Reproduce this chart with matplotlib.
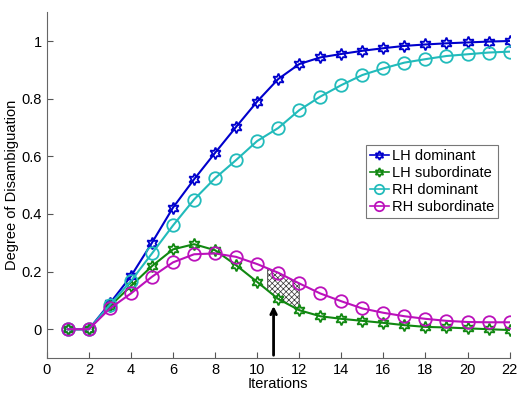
import numpy as np
import matplotlib.pyplot as plt

plt.rcParams['font.family'] = ['Liberation Sans', 'DejaVu Sans']
plt.rcParams['hatch.linewidth'] = 0.5

iters = np.arange(1, 23)
lh_dom = [0, 0, 0.09, 0.184, 0.30, 0.422, 0.52, 0.612, 0.702, 0.79, 0.868, 0.92,
          0.943, 0.955, 0.966, 0.975, 0.983, 0.988, 0.992, 0.995, 0.998, 1.0]
lh_sub = [0, 0, 0.08, 0.15, 0.219, 0.277, 0.295, 0.274, 0.222, 0.164, 0.105, 0.066,
          0.045, 0.036, 0.029, 0.022, 0.014, 0.008, 0.006, 0.003, 0.0, -0.003]
rh_dom = [0, 0, 0.085, 0.167, 0.263, 0.36, 0.45, 0.524, 0.587, 0.653, 0.698, 0.76,
          0.807, 0.847, 0.882, 0.905, 0.925, 0.937, 0.948, 0.954, 0.96, 0.963]
rh_sub = [0, 0, 0.072, 0.124, 0.182, 0.232, 0.26, 0.263, 0.251, 0.226, 0.196, 0.159,
          0.124, 0.097, 0.072, 0.057, 0.045, 0.036, 0.029, 0.025, 0.024, 0.024]

fig = plt.figure(figsize=(5.2, 3.93), dpi=100)
ax = fig.add_axes([0.09, 0.089, 0.89, 0.88])

star = (6, 1, 0)
ax.plot(iters, lh_dom, color='#0000cc', marker=star, mfc='none', ms=8.5, mew=1.3, lw=1.5, label='LH dominant')
ax.plot(iters, lh_sub, color='#118811', marker=star, mfc='none', ms=8.5, mew=1.3, lw=1.5, label='LH subordinate')
ax.plot(iters, rh_dom, color='#22bbbb', marker='o', mfc='none', ms=9, mew=1.3, lw=1.5, label='RH dominant')
ax.plot(iters, rh_sub, color='#bb11bb', marker='o', mfc='none', ms=9, mew=1.3, lw=1.5, label='RH subordinate')

# hatched gap between the subordinate curves
xs = np.linspace(10.5, 12, 30)
ax.fill_between(xs, np.interp(xs, iters, lh_sub), np.interp(xs, iters, rh_sub),
                facecolor='none', edgecolor='#333333', hatch='xxxxxx', lw=0.6)

ax.annotate('', xy=(10.78, 0.09), xytext=(10.78, -0.1),
            arrowprops=dict(arrowstyle='->', color='black', lw=2))

ax.set_xlim(0, 22)
ax.set_ylim(-0.1, 1.1)
ax.set_xticks(range(0, 23, 2))
ax.set_yticks([0, 0.2, 0.4, 0.6, 0.8, 1])
ax.set_yticklabels(['0', '0.2', '0.4', '0.6', '0.8', '1'])
ax.tick_params(direction='in', length=4, labelsize=10.5, color='#555555')
for s in ['top', 'right']:
    ax.spines[s].set_visible(False)
for s in ['left', 'bottom']:
    ax.spines[s].set_color('#666666')
ax.set_xlabel('Iterations', fontsize=10.5, labelpad=0)
ax.set_ylabel('Degree of Disambiguation', fontsize=10.5, labelpad=2)

leg = ax.legend(loc='upper right', bbox_to_anchor=(0.976, 0.616), fancybox=False,
                edgecolor='#555555', fontsize=10.5, handlelength=1.3, handletextpad=0.2,
                borderpad=0.3, labelspacing=0.2, borderaxespad=0, markerscale=0.75)
leg.get_frame().set_linewidth(0.8)
for line in leg.get_lines():
    line.set_linewidth(1.2)

fig.savefig('out.png', dpi=100)
